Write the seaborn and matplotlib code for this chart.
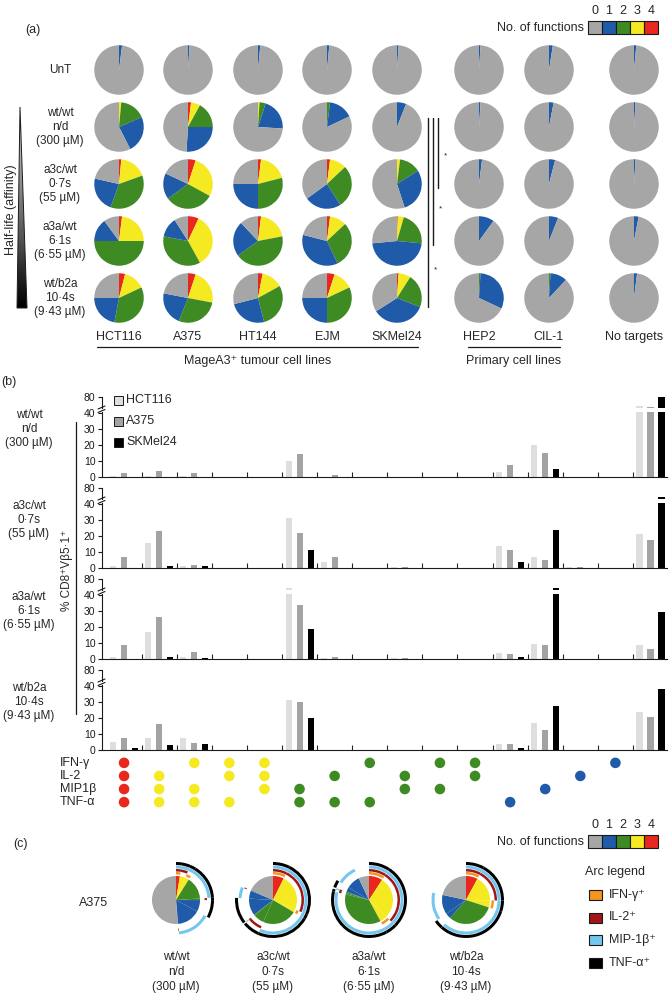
import numpy as np
import pandas as pd
import matplotlib
matplotlib.use('Agg')
import matplotlib.pyplot as plt
from matplotlib.patches import Polygon, Rectangle
import seaborn as sns

sns.set_theme(style='white')
plt.rcParams['font.family'] = ['Liberation Sans', 'DejaVu Sans']
plt.rcParams['font.size'] = 8.5

# ---------------- data ----------------
# pie colours for 4, 3, 2, 1, 0 functions (clockwise from 12 o'clock)
fn_colours = ['#e8271d', '#f5ea22', '#3d8b22', '#1f5ba8', '#a6a6a6']

cell_lines = ['HCT116', 'A375', 'HT144', 'EJM', 'SKMel24', 'HEP2', 'CIL-1', 'No targets']

# panel (a): % of cells with 4 / 3 / 2 / 1 / 0 functions
pie_unt = [[0, 0, 0, 2, 98], [0, 0, 0, 1, 99], [0, 0, 0, 1.5, 98.5], [0, 0, 0, 1.5, 98.5],
           [0, 0, 0, 1, 99], [0, 0, 0, 1, 99], [0, 0, 0, 2.5, 97.5], [0, 0, 0, 1.5, 98.5]]
pie_wtwt = [[0, 1.5, 17, 24, 57.5], [2, 6, 17, 26, 49], [0, 1, 4, 21, 74], [0, 0, 2, 16, 82],
            [0, 0, 0, 6, 94], [0, 0, 0, 1, 99], [0, 0, 0, 3, 97], [0, 0, 0, 1, 99]]
pie_a3c = [[1.5, 18, 36, 23, 21.5], [5, 28, 32, 17, 18], [2, 19, 29, 25, 25], [2, 11, 28, 24, 35],
           [0, 2, 14, 29, 55], [0, 0, 0, 2, 98], [0, 0, 0, 4, 96], [0, 0, 0, 1, 99]]
pie_a3a = [[2, 23, 50, 15, 10], [7, 35, 36, 13, 9], [2, 20, 43, 23, 12], [2, 11, 30, 36, 21],
           [0.5, 4, 22, 47, 26.5], [0, 0, 0, 10, 90], [0, 0, 0, 6, 94], [0, 0, 0, 3, 97]]
pie_b2a = [[4, 14, 35, 22, 25], [5, 23, 28, 22, 22], [3, 14, 29, 25, 29], [5, 13, 32, 25, 25],
           [1, 8, 22, 35, 34], [0, 0, 1, 31, 68], [0, 0, 1, 11, 88], [0, 0, 0, 2, 98]]

conditions = ['wt/wt', 'a3c/wt', 'a3a/wt', 'wt/b2a']
half_lives = ['n/d', '0·7s', '6·1s', '10·4s']
affinities = ['(300 µM)', '(55 µM)', '(6·55 µM)', '(9·43 µM)']

# panel (b): function combinations (1 = positive)
functions = ['IFN-γ', 'IL-2', 'MIP1β', 'TNF-α']
ifn = [1, 0, 1, 1, 1, 0, 0, 1, 0, 1, 1, 0, 0, 0, 1, 0]
il2 = [1, 1, 0, 1, 1, 0, 1, 0, 1, 0, 1, 0, 0, 1, 0, 0]
mip = [1, 1, 1, 0, 1, 1, 0, 0, 1, 1, 0, 0, 1, 0, 0, 0]
tnf = [1, 1, 1, 1, 0, 1, 1, 1, 0, 0, 0, 1, 0, 0, 0, 0]

line_order = ['HCT116', 'A375', 'SKMel24']
hct_wtwt = [0.5, 0.5, 0.5, 0, 0, 10, 0, 0, 0, 0, 0, 3, 20, 0.3, 0, 53]
a375_wtwt = [2.5, 3.5, 2.5, 0, 0, 14.5, 1, 0, 0, 0, 0, 7.5, 15, 0.3, 0, 49]
sk_wtwt = [0, 0, 0, 0, 0, 0, 0, 0, 0, 0, 0, 0, 5, 0, 0, 80]
hct_a3c = [1.5, 15.5, 1, 0, 0, 31, 3.5, 0, 0.5, 0, 0, 14, 7, 0.5, 0, 21]
a375_a3c = [7, 23, 2, 0, 0, 22, 7, 0, 0.5, 0, 0, 11, 5, 0.5, 0, 17.5]
sk_a3c = [0, 1, 1, 0, 0, 11, 0, 0, 0, 0, 0, 4, 24, 0, 0, 50]
hct_a3a = [1.5, 17, 1.5, 0, 0, 50, 0.5, 0, 0.5, 0, 0, 4, 9.5, 0.3, 0, 8.5]
a375_a3a = [8.5, 26, 4.5, 0, 0, 34, 1, 0, 0.7, 0, 0, 3, 8.5, 0, 0, 6.5]
sk_a3a = [0, 1, 0.5, 0, 0, 19, 0, 0, 0, 0, 0, 1, 50, 0, 0, 29.5]
hct_b2a = [5, 7.5, 7.5, 0, 0, 31, 0, 0, 0, 0, 0, 3.5, 17, 0, 0, 24]
a375_b2a = [7.5, 16.5, 4.5, 0, 0, 30, 0, 0, 0, 0, 0, 3.5, 12.5, 0, 0, 20.5]
sk_b2a = [1.5, 3, 3.5, 0, 0, 20, 0, 0, 0.3, 0, 0, 1.5, 27.5, 0, 0, 38]

bar_colours = ['#dedede', '#a3a3a3', '#000000']
arc_colours = ['#f7941d', '#a01515', '#73c7ee', '#000000']
arc_labels = ['IFN-γ⁺', 'IL-2⁺', 'MIP-1β⁺', 'TNF-α⁺']

# ---------------- figure ----------------
W, H = 669, 998
fig = plt.figure(figsize=(W / 100, H / 100), dpi=100)


def px_axes(x0, y0, w, h):
    # axes placed in pixel units, measured from the top-left corner
    return fig.add_axes([x0 / W, 1 - (y0 + h) / H, w / W, h / H])


ov = px_axes(0, 0, W, H)
ov.set_xlim(0, W)
ov.set_ylim(H, 0)
ov.axis('off')


def stacked(x, y, lines, dy=14, **kw):
    n = len(lines)
    for i, t in enumerate(lines):
        ov.text(x, y + (i - (n - 1) / 2) * dy, t, ha='center', va='center', **kw)


def fn_legend(y_box):
    x0 = 588
    for i in range(5):
        ov.add_patch(Rectangle((x0 + i * 14, y_box), 14, 13, facecolor=fn_colours[4 - i],
                               edgecolor='k', lw=0.8))
        ov.text(x0 + i * 14 + 7, y_box - 10, str(i), ha='center', va='center', fontsize=9)
    ov.text(x0 - 4, y_box + 7, 'No. of functions', ha='right', va='center', fontsize=9)


# ---- panel (a)
ov.text(33, 30, '(a)', ha='center', va='center', fontsize=9)
fn_legend(21)

col_x = [119, 188, 258, 327, 397, 479, 549, 634]
row_y = [70, 127, 184, 241, 298]
pie_rows = [pie_unt, pie_wtwt, pie_a3c, pie_a3a, pie_b2a]
pie_d = 50
for r, row_vals in enumerate(pie_rows):
    for c, vals in enumerate(row_vals):
        ax = px_axes(col_x[c] - pie_d / 2, row_y[r] - pie_d / 2, pie_d, pie_d)
        ax.pie(vals, colors=fn_colours, startangle=90, counterclock=False,
               wedgeprops=dict(linewidth=0))
        ax.set_xlim(-1.01, 1.01)
        ax.set_ylim(-1.01, 1.01)

stacked(60, row_y[0], ['UnT'])
for k in range(4):
    stacked(60, row_y[k + 1], [conditions[k], half_lives[k], affinities[k]], dy=14)

# half-life triangle
tri = Polygon([(20, 107), (17, 308), (27, 308)], closed=True, facecolor='none',
              edgecolor='k', lw=0.7)
ov.add_patch(tri)
grad = np.linspace(0.25, 1, 100).reshape(-1, 1)
im = ov.imshow(grad, extent=[17, 27, 308, 107], cmap='Greys', aspect='auto', vmin=0, vmax=1)
im.set_clip_path(tri)
ov.set_xlim(0, W)
ov.set_ylim(H, 0)
ov.text(11, 210, 'Half-life (affinity)', rotation=90, ha='center', va='center', fontsize=9)

# significance bars
for x, y_end in [(428, 307), (433, 245), (438, 188)]:
    ov.plot([x, x], [118, y_end], color='k', lw=1)
for x, y in [(443, 156), (438, 209), (433, 270)]:
    ov.text(x + 1, y, '*', ha='left', va='center', fontsize=6)

for c, name in enumerate(cell_lines):
    ov.text(col_x[c], 337, name, ha='center', va='center', fontsize=9)
ov.plot([97, 418], [347, 347], color='k', lw=0.9)
ov.text(258, 361, 'MageA3⁺ tumour cell lines', ha='center', va='center', fontsize=9)
ov.plot([468, 560], [347, 347], color='k', lw=0.9)
ov.text(514, 361, 'Primary cell lines', ha='center', va='center', fontsize=9)

# ---- panel (b)
ov.text(9, 382, '(b)', ha='center', va='center', fontsize=9)
zero_y = [477, 568, 659, 750]
x_left, x_right = 101.6, 667
xlim = (-0.64, 15.47)
bar_sets = [(hct_wtwt, a375_wtwt, sk_wtwt), (hct_a3c, a375_a3c, sk_a3c),
            (hct_a3a, a375_a3a, sk_a3a), (hct_b2a, a375_b2a, sk_b2a)]

for k, (hct, a375, sk) in enumerate(bar_sets):
    df = pd.DataFrame({'combo': np.tile(np.arange(16), 3),
                       'line': np.repeat(line_order, 16),
                       'pct': np.concatenate([hct, a375, sk])})
    lo = px_axes(x_left, zero_y[k] - 65, x_right - x_left, 65)
    hi = px_axes(x_left, zero_y[k] - 80, x_right - x_left, 11)
    for ax in (lo, hi):
        sns.barplot(data=df, x='combo', y='pct', hue='line', hue_order=line_order,
                    palette=bar_colours, width=0.94, gap=0.45, saturation=1,
                    errorbar=None, legend=False, linewidth=0, ax=ax)
        ax.set(xlabel='', ylabel='', xlim=xlim)
        ax.patch.set_alpha(0)
        for s in ['top', 'right']:
            ax.spines[s].set_visible(False)
        for s in ['left', 'bottom']:
            ax.spines[s].set_color('k')
            ax.spines[s].set_linewidth(0.8)
        ax.tick_params(axis='y', direction='out', length=3, width=0.8, left=True,
                       labelsize=7.5, pad=1.5, colors='k')
    lo.set_ylim(0, 40.6)
    lo.set_yticks([0, 10, 20, 30, 40])
    lo.set_xticks(np.arange(15) + 0.5)
    lo.set_xticklabels([])
    lo.tick_params(axis='x', direction='in', length=3.5, width=0.8, bottom=True)
    hi.set_ylim(45, 80.5)
    hi.set_yticks([80])
    hi.set_xticks([])
    hi.spines['bottom'].set_visible(False)
    # axis break marks
    for yb in (zero_y[k] - 66, zero_y[k] - 69.5):
        ov.plot([98, 105], [yb + 1.5, yb - 1.5], color='k', lw=0.8)
    stacked(29, zero_y[k] - 48, [conditions[k], half_lives[k], affinities[k]], dy=14)

# legend for the cell lines
for i, (name, col) in enumerate(zip(line_order, bar_colours)):
    y = 400 + i * 21
    ov.add_patch(Rectangle((114, y - 4.5), 9, 9, facecolor=col, edgecolor='k', lw=0.7))
    ov.text(126, y, name, ha='left', va='center', fontsize=9)

ov.plot([76, 76], [422, 714], color='k', lw=0.9)
ov.text(67, 570, '% CD8⁺Vβ5·1⁺', rotation=90, ha='center', va='center', fontsize=8.5)

# combination dot matrix
n_fun = np.array(ifn) + np.array(il2) + np.array(mip) + np.array(tnf)
dot_rows = []
for r, member in enumerate([ifn, il2, mip, tnf]):
    for c, m in enumerate(member):
        if m:
            dot_rows.append({'combo': c, 'row': r, 'n': int(n_fun[c])})
dots = pd.DataFrame(dot_rows)
axd = px_axes(x_left, 755, x_right - x_left, 55)
sns.scatterplot(data=dots, x='combo', y='row', hue='n',
                palette={4: fn_colours[0], 3: fn_colours[1], 2: fn_colours[2], 1: fn_colours[3]},
                s=58, linewidth=0, legend=False, ax=axd)
axd.set(xlim=xlim, ylim=(3.6, -0.6), xlabel='', ylabel='')
axd.axis('off')
for r, name in enumerate(functions):
    ov.text(60, 763 + r * 13.1, name, ha='left', va='center', fontsize=9)

# ---- panel (c)
ov.text(20, 844, '(c)', ha='center', va='center', fontsize=9)
fn_legend(835)
ov.text(94, 903, 'A375', ha='center', va='center', fontsize=9)

cat_colours = [fn_colours[4 - n] for n in n_fun]
arc_radius = [28, 31, 34.5, 38]
arc_width = [2.5, 2.5, 3, 3]
c_x = [176, 273, 369, 466]
c_y = 900
a375_sets = [a375_wtwt, a375_a3c, a375_a3a, a375_b2a]
for k, vals in enumerate(a375_sets):
    ax = px_axes(c_x[k] - 40, c_y - 40, 80, 80)
    ax.pie(vals, radius=24, colors=cat_colours, startangle=90, counterclock=False,
           wedgeprops=dict(linewidth=0))
    for f, member in enumerate([ifn, il2, mip, tnf]):
        cols = [arc_colours[f] if m else (0, 0, 0, 0) for m in member]
        ax.pie(vals, radius=arc_radius[f], colors=cols, startangle=90, counterclock=False,
               wedgeprops=dict(width=arc_width[f], linewidth=0))
    ax.set_xlim(-40, 40)
    ax.set_ylim(-40, 40)
    stacked(c_x[k], 972, [conditions[k], half_lives[k], affinities[k]], dy=15)

ov.text(585, 872, 'Arc legend', ha='left', va='center', fontsize=9)
for i, (lab, col) in enumerate(zip(arc_labels, arc_colours)):
    y = 895 + i * 22.5
    ov.add_patch(Rectangle((589, y - 5), 13, 10, facecolor=col, edgecolor='k', lw=0.8))
    ov.text(609, y, lab, ha='left', va='center', fontsize=9)

fig.savefig('out.png', dpi=100)
